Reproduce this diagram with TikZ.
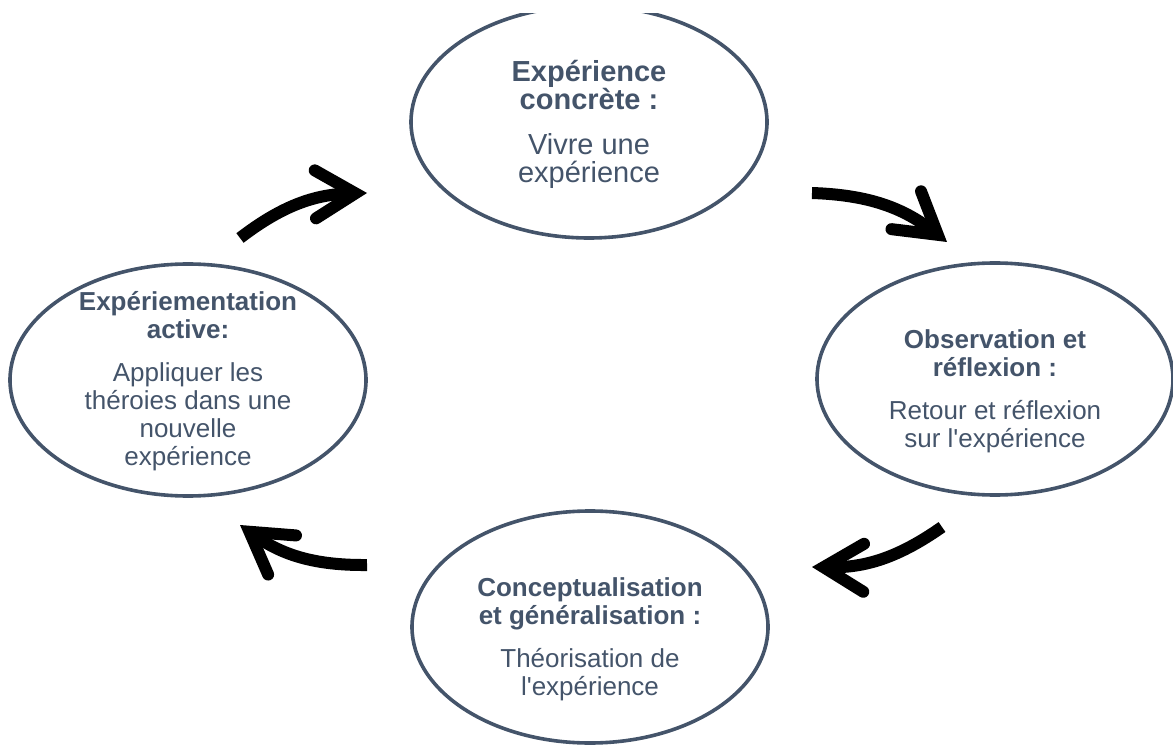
\documentclass[tikz,border=0pt]{standalone}
\usepackage{fontspec}
\setmainfont{Liberation Sans}
\usetikzlibrary{shapes.geometric,arrows.meta}
\definecolor{slate}{HTML}{44546A}
\begin{document}
\begin{tikzpicture}[x=1pt,y=-1pt,
  stage/.style={ellipse, draw=slate, line width=3.6pt, inner sep=0pt,
    minimum width=356pt, minimum height=232pt},
  stagetext/.style={text=slate, align=center, font=\fontsize{26}{28}\selectfont},
  cycle/.style={line width=12pt, bend left=18,
    -{Straight Barb[length=40pt,width=48pt,line cap=round]}}]
  \useasboundingbox (0,0) rectangle (1173,746);
  \clip (0,14) rectangle (1173,746);
  % the four stages
  \node[stage] (concrete) at (589,122) {};
  \node[stage] (reflect) at (995,379) {};
  \node[stage] (abstract) at (590,627) {};
  \node[stage] (active) at (188,380) {};
  \node[stagetext, font=\fontsize{29}{28}\selectfont] (concrete-txt) at (589,124)
    {\textbf{Expérience}\\\textbf{concrète :}\\[17pt]Vivre une\\expérience};
  \node[stagetext] (reflect-txt) at (995,391)
    {\textbf{Observation et}\\\textbf{réflexion :}\\[15pt]Retour et réflexion\\sur l\textquotesingle expérience};
  \node[stagetext] (abstract-txt) at (590,639)
    {\textbf{Conceptualisation}\\\textbf{et généralisation :}\\[15pt]Théorisation de\\l\textquotesingle expérience};
  \node[stagetext] (active-txt) at (188,381)
    {\textbf{Expériementation}\\\textbf{active:}\\[15pt]Appliquer les\\théroies dans une\\nouvelle\\expérience};
  % arrows between them
  \coordinate (a1) at (240,238); \coordinate (b1) at (367,193);
  \coordinate (a2) at (812,193); \coordinate (b2) at (947,242);
  \coordinate (a3) at (942,527); \coordinate (b3) at (812,567);
  \coordinate (a4) at (367,565); \coordinate (b4) at (240,525);
  \draw[cycle] (a1) to (b1);
  \draw[cycle] (a2) to (b2);
  \draw[cycle] (a3) to (b3);
  \draw[cycle] (a4) to (b4);
\end{tikzpicture}
\end{document}
